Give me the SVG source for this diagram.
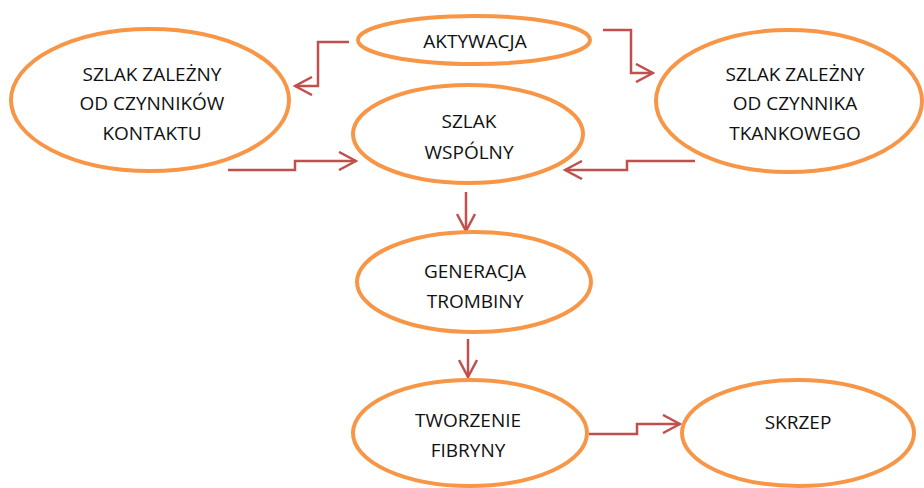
<svg xmlns="http://www.w3.org/2000/svg" width="924" height="488" viewBox="0 0 924 488">
<defs>
<style>
.node ellipse{fill:#fff;stroke:#F79646;stroke-width:4}
.node text{font-family:"Open Sans","Liberation Sans",sans-serif;font-size:19px;fill:#111;text-anchor:middle}
.conn path{fill:none;stroke:#C0504D;stroke-width:2.5}
</style>
<marker id="arr" viewBox="0 0 20 20" refX="18" refY="10" markerWidth="20" markerHeight="20" markerUnits="userSpaceOnUse" orient="auto">
<path d="M1,1 L18,10 L1,19" fill="none" stroke="#C0504D" stroke-width="2.5"/>
</marker>
</defs>
<rect width="924" height="488" fill="#fff"/>
<g class="conn">
<path d="M349,42 H318 V86 H295" marker-end="url(#arr)"/>
<path d="M603,30 H631 V73 H653" marker-end="url(#arr)"/>
<path d="M228,170 H295 V161 H356" marker-end="url(#arr)"/>
<path d="M695,161 H627 V170 H565" marker-end="url(#arr)"/>
<path d="M466,192 V231" marker-end="url(#arr)"/>
<path d="M468,339 V377" marker-end="url(#arr)"/>
<path d="M589,434 H637 V424 H680" marker-end="url(#arr)"/>
</g>
<g id="aktywacja" class="node"><ellipse cx="474" cy="40" rx="116" ry="24"/><text x="475" y="48">AKTYWACJA</text></g>
<g id="kontakt" class="node"><ellipse cx="150" cy="100" rx="139" ry="71"/><text x="152" y="81">SZLAK ZALEŻNY</text><text x="152" y="110">OD CZYNNIKÓW</text><text x="152" y="140">KONTAKTU</text></g>
<g id="wspolny" class="node"><ellipse cx="468" cy="134" rx="115" ry="49"/><text x="469" y="128">SZLAK</text><text x="469" y="159">WSPÓLNY</text></g>
<g id="tkankowy" class="node"><ellipse cx="789" cy="101" rx="133" ry="71"/><text x="795" y="81">SZLAK ZALEŻNY</text><text x="795" y="110">OD CZYNNIKA</text><text x="795" y="140">TKANKOWEGO</text></g>
<g id="generacja" class="node"><ellipse cx="474" cy="282" rx="117" ry="50"/><text x="475" y="278">GENERACJA</text><text x="475" y="308">TROMBINY</text></g>
<g id="tworzenie" class="node"><ellipse cx="470" cy="433" rx="117" ry="53"/><text x="468" y="427">TWORZENIE</text><text x="468" y="457">FIBRYNY</text></g>
<g id="skrzep" class="node"><ellipse cx="798" cy="433" rx="116" ry="53"/><text x="798" y="429">SKRZEP</text></g>
</svg>
